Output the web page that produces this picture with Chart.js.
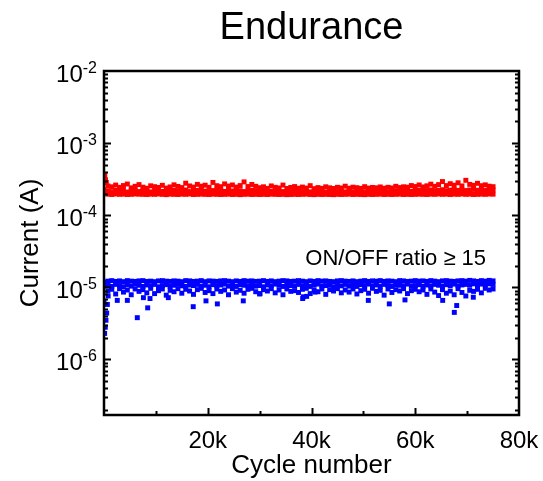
<!DOCTYPE html>
<html>
<head>
<meta charset="utf-8">
<script src="https://cdn.jsdelivr.net/npm/chart.js@4.4.1/dist/chart.umd.min.js"></script>
<style>
  html, body { margin: 0; padding: 0; background: #fff; }
  #wrap { width: 543px; height: 481px; }
</style>
</head>
<body>
<div id="wrap"><canvas id="chart"></canvas></div>
<script>
// cycle numbers of the sampled read-outs
const cycles = [
  0,750,1500,2250,3000,3750,4500,5250,6000,6750,
  7500,8250,9000,9750,10500,11250,12000,12750,13500,14250,
  15000,15750,16500,17250,18000,18750,19500,20250,21000,21750,
  22500,23250,24000,24750,25500,26250,27000,27750,28500,29250,
  30000,30750,31500,32250,33000,33750,34500,35250,36000,36750,
  37500,38250,39000,39750,40500,41250,42000,42750,43500,44250,
  45000,45750,46500,47250,48000,48750,49500,50250,51000,51750,
  52500,53250,54000,54750,55500,56250,57000,57750,58500,59250,
  60000,60750,61500,62250,63000,63750,64500,65250,66000,66750,
  67500,68250,69000,69750,70500,71250,72000,72750,73500,74250,
  75000
];

// ON state current (A), lower / middle / upper part of the red band
const onLow = [
  2.05e-4,1.96e-4,1.94e-4,1.97e-4,1.95e-4,1.96e-4,1.94e-4,1.95e-4,1.97e-4,1.96e-4,
  1.95e-4,1.94e-4,1.96e-4,1.95e-4,1.97e-4,1.95e-4,1.93e-4,1.96e-4,1.95e-4,1.94e-4,
  1.96e-4,1.95e-4,1.97e-4,1.94e-4,1.95e-4,1.96e-4,1.95e-4,1.94e-4,1.96e-4,1.95e-4,
  1.94e-4,1.95e-4,1.96e-4,1.94e-4,1.95e-4,1.93e-4,1.95e-4,1.96e-4,1.94e-4,1.95e-4,
  1.94e-4,1.95e-4,1.94e-4,1.96e-4,1.95e-4,1.94e-4,1.95e-4,1.93e-4,1.94e-4,1.95e-4,
  1.94e-4,1.95e-4,1.96e-4,1.94e-4,1.93e-4,1.95e-4,1.94e-4,1.95e-4,1.94e-4,1.93e-4,
  1.95e-4,1.94e-4,1.95e-4,1.96e-4,1.94e-4,1.95e-4,1.94e-4,1.93e-4,1.95e-4,1.94e-4,
  1.95e-4,1.96e-4,1.94e-4,1.95e-4,1.94e-4,1.95e-4,1.96e-4,1.94e-4,1.95e-4,1.94e-4,
  1.95e-4,1.96e-4,1.95e-4,1.94e-4,1.96e-4,1.95e-4,1.97e-4,1.95e-4,1.96e-4,1.94e-4,
  1.96e-4,1.95e-4,1.97e-4,1.95e-4,1.96e-4,1.94e-4,1.95e-4,1.96e-4,1.95e-4,1.97e-4,
  1.96e-4
];
const onMid = [
  2.25e-4,2.18e-4,2.12e-4,2.21e-4,2.15e-4,2.24e-4,2.10e-4,2.19e-4,2.22e-4,2.13e-4,
  2.17e-4,2.23e-4,2.11e-4,2.16e-4,2.20e-4,2.14e-4,2.09e-4,2.18e-4,2.22e-4,2.15e-4,
  2.19e-4,2.24e-4,2.13e-4,2.17e-4,2.21e-4,2.26e-4,2.16e-4,2.12e-4,2.20e-4,2.23e-4,
  2.18e-4,2.14e-4,2.21e-4,2.17e-4,2.25e-4,2.19e-4,2.13e-4,2.16e-4,2.22e-4,2.18e-4,
  2.12e-4,2.15e-4,2.10e-4,2.14e-4,2.17e-4,2.11e-4,2.13e-4,2.09e-4,2.12e-4,2.15e-4,
  2.10e-4,2.13e-4,2.16e-4,2.11e-4,2.08e-4,2.12e-4,2.14e-4,2.10e-4,2.13e-4,2.09e-4,
  2.12e-4,2.15e-4,2.11e-4,2.14e-4,2.10e-4,2.13e-4,2.16e-4,2.12e-4,2.09e-4,2.14e-4,
  2.11e-4,2.15e-4,2.12e-4,2.10e-4,2.14e-4,2.17e-4,2.13e-4,2.16e-4,2.19e-4,2.15e-4,
  2.18e-4,2.21e-4,2.16e-4,2.20e-4,2.24e-4,2.18e-4,2.22e-4,2.26e-4,2.19e-4,2.23e-4,
  2.27e-4,2.21e-4,2.25e-4,2.20e-4,2.24e-4,2.28e-4,2.22e-4,2.26e-4,2.21e-4,2.25e-4,
  2.23e-4
];
const onHigh = [
  3.40e-4,2.55e-4,2.48e-4,2.62e-4,2.44e-4,2.58e-4,2.71e-4,2.40e-4,2.52e-4,2.66e-4,
  2.45e-4,2.37e-4,2.56e-4,2.49e-4,2.43e-4,2.60e-4,2.38e-4,2.47e-4,2.64e-4,2.51e-4,
  2.42e-4,2.78e-4,2.55e-4,2.46e-4,2.68e-4,2.53e-4,2.61e-4,2.44e-4,2.85e-4,2.57e-4,
  2.49e-4,2.72e-4,2.54e-4,2.63e-4,2.46e-4,2.58e-4,2.90e-4,2.50e-4,2.67e-4,2.52e-4,
  2.41e-4,2.48e-4,2.36e-4,2.55e-4,2.44e-4,2.39e-4,2.62e-4,2.35e-4,2.43e-4,2.50e-4,
  2.37e-4,2.46e-4,2.38e-4,2.57e-4,2.34e-4,2.42e-4,2.36e-4,2.48e-4,2.40e-4,2.35e-4,
  2.44e-4,2.39e-4,2.53e-4,2.37e-4,2.45e-4,2.41e-4,2.36e-4,2.49e-4,2.38e-4,2.43e-4,
  2.40e-4,2.47e-4,2.37e-4,2.44e-4,2.39e-4,2.52e-4,2.42e-4,2.48e-4,2.45e-4,2.58e-4,
  2.50e-4,2.63e-4,2.47e-4,2.56e-4,2.70e-4,2.52e-4,2.66e-4,2.93e-4,2.58e-4,2.74e-4,
  2.61e-4,2.82e-4,2.55e-4,3.05e-4,2.68e-4,2.60e-4,2.77e-4,2.57e-4,2.64e-4,2.53e-4,
  2.49e-4
];
// a few stray ON reads at the very start
const onExtraCycles = [150, 300, 450];
const onExtra = [3.55e-4, 3.1e-4, 2.85e-4];

// OFF state current (A), upper / middle / lower part of the blue band
const offHigh = [
  1.18e-5,1.22e-5,1.24e-5,1.21e-5,1.23e-5,1.20e-5,1.24e-5,1.22e-5,1.21e-5,1.23e-5,
  1.24e-5,1.21e-5,1.22e-5,1.20e-5,1.23e-5,1.24e-5,1.22e-5,1.21e-5,1.23e-5,1.22e-5,
  1.20e-5,1.24e-5,1.23e-5,1.21e-5,1.22e-5,1.24e-5,1.20e-5,1.23e-5,1.22e-5,1.21e-5,
  1.23e-5,1.24e-5,1.22e-5,1.20e-5,1.23e-5,1.21e-5,1.24e-5,1.22e-5,1.23e-5,1.21e-5,
  1.22e-5,1.24e-5,1.21e-5,1.23e-5,1.20e-5,1.22e-5,1.24e-5,1.23e-5,1.21e-5,1.22e-5,
  1.24e-5,1.22e-5,1.20e-5,1.23e-5,1.21e-5,1.24e-5,1.22e-5,1.23e-5,1.21e-5,1.20e-5,
  1.23e-5,1.24e-5,1.22e-5,1.21e-5,1.23e-5,1.20e-5,1.22e-5,1.24e-5,1.21e-5,1.23e-5,
  1.22e-5,1.24e-5,1.21e-5,1.23e-5,1.22e-5,1.20e-5,1.24e-5,1.23e-5,1.21e-5,1.22e-5,
  1.24e-5,1.22e-5,1.23e-5,1.21e-5,1.24e-5,1.22e-5,1.20e-5,1.23e-5,1.24e-5,1.22e-5,
  1.21e-5,1.23e-5,1.24e-5,1.22e-5,1.25e-5,1.23e-5,1.21e-5,1.24e-5,1.22e-5,1.25e-5,
  1.23e-5
];
const offMid = [
  1.05e-5,1.08e-5,1.03e-5,1.10e-5,1.06e-5,1.02e-5,1.09e-5,1.04e-5,1.11e-5,1.07e-5,
  1.03e-5,1.08e-5,1.05e-5,1.10e-5,1.02e-5,1.06e-5,1.09e-5,1.04e-5,1.07e-5,1.11e-5,
  1.05e-5,1.03e-5,1.08e-5,1.06e-5,1.10e-5,1.04e-5,1.07e-5,1.02e-5,1.09e-5,1.05e-5,
  1.08e-5,1.11e-5,1.04e-5,1.06e-5,1.03e-5,1.09e-5,1.07e-5,1.05e-5,1.10e-5,1.04e-5,
  1.06e-5,1.02e-5,1.08e-5,1.05e-5,1.11e-5,1.07e-5,1.03e-5,1.09e-5,1.06e-5,1.04e-5,
  1.10e-5,1.05e-5,1.08e-5,1.03e-5,1.07e-5,1.11e-5,1.04e-5,1.06e-5,1.09e-5,1.02e-5,
  1.08e-5,1.05e-5,1.10e-5,1.04e-5,1.07e-5,1.03e-5,1.09e-5,1.06e-5,1.11e-5,1.05e-5,
  1.08e-5,1.04e-5,1.10e-5,1.06e-5,1.03e-5,1.09e-5,1.07e-5,1.05e-5,1.11e-5,1.04e-5,
  1.06e-5,1.09e-5,1.03e-5,1.08e-5,1.05e-5,1.10e-5,1.07e-5,1.04e-5,1.09e-5,1.06e-5,
  1.11e-5,1.05e-5,1.08e-5,1.10e-5,1.07e-5,1.12e-5,1.09e-5,1.11e-5,1.08e-5,1.12e-5,
  1.10e-5
];
const offLow = [
  6.2e-6,8.9e-6,9.4e-6,8.1e-6,9.6e-6,8.6e-6,9.2e-6,7.9e-6,9.5e-6,8.8e-6,
  9.3e-6,8.4e-6,9.7e-6,8.2e-6,9.0e-6,9.5e-6,7.8e-6,9.1e-6,8.7e-6,9.6e-6,
  8.3e-6,9.4e-6,8.9e-6,8.0e-6,9.3e-6,9.7e-6,8.5e-6,9.0e-6,8.2e-6,9.5e-6,
  8.8e-6,9.2e-6,7.9e-6,9.6e-6,8.6e-6,9.1e-6,8.3e-6,9.4e-6,9.7e-6,8.7e-6,
  8.1e-6,9.3e-6,8.9e-6,9.6e-6,8.4e-6,9.2e-6,7.9e-6,9.5e-6,8.8e-6,9.0e-6,
  8.5e-6,9.4e-6,9.7e-6,8.2e-6,9.1e-6,8.7e-6,9.5e-6,8.0e-6,9.3e-6,8.9e-6,
  9.6e-6,8.4e-6,9.2e-6,8.6e-6,9.5e-6,8.1e-6,9.0e-6,9.4e-6,8.3e-6,9.7e-6,
  8.8e-6,9.1e-6,7.8e-6,9.5e-6,8.5e-6,9.3e-6,8.9e-6,9.6e-6,8.2e-6,9.0e-6,
  9.4e-6,8.7e-6,9.2e-6,8.0e-6,9.5e-6,8.6e-6,7.7e-6,9.3e-6,8.3e-6,8.9e-6,
  7.9e-6,9.6e-6,8.5e-6,7.6e-6,9.1e-6,8.8e-6,9.4e-6,8.4e-6,9.7e-6,9.2e-6,
  9.5e-6
];
// scattered low OFF reads
const offExtraCycles = [
  120, 250, 380, 520, 650, 800, 2560, 4500, 6420, 7600, 8420, 8870, 12400, 17200,
  19660, 21850, 26850, 30070, 38300, 38420, 39070, 40670, 50950, 55000,
  58020, 65290, 67530, 67990, 71190
];
const offExtra = [
  2.3e-6, 2.8e-6, 3.5e-6, 4.4e-6, 5.8e-6, 7.6e-6, 6.6e-6, 6.6e-6, 3.8e-6, 7.2e-6, 5.2e-6, 7.0e-6, 7.2e-6, 5.4e-6,
  6.5e-6, 5.9e-6, 6.5e-6, 8.2e-6, 7.0e-6, 7.4e-6, 7.5e-6, 8.6e-6, 6.6e-6, 5.9e-6,
  6.7e-6, 6.6e-6, 4.5e-6, 5.6e-6, 7.3e-6
];

const xTicks = [20000, 40000, 60000, 80000];
const yDecades = [-2, -3, -4, -5, -6];

const FONT = "'Liberation Sans', Arial, sans-serif";
const RED = '#ff0000';
const BLUE = '#0000ff';

const pts = (xs, ys) => xs.map((x, i) => ({ x: x, y: ys[i] }));

const layer = (label, xs, ys, color) => ({
  label: label,
  data: pts(xs, ys),
  backgroundColor: color,
  borderWidth: 0,
  pointStyle: 'rect',
  pointRadius: 3.5,
  showLine: false
});

// frame, inward ticks, y labels with exponents, annotation
const framePlugin = {
  id: 'frame',
  afterDraw(chart) {
    const { ctx, chartArea: a, scales: { x, y } } = chart;
    ctx.save();
    ctx.strokeStyle = '#000';
    ctx.lineWidth = 2;
    ctx.beginPath();
    // y ticks on left and right
    for (let e = -7; e <= -3; e++) {
      for (let m = 1; m <= 9; m++) {
        const v = m * Math.pow(10, e);
        if (v < y.min || v > y.max) continue;
        const py = Math.round(y.getPixelForValue(v)) + 0.5;
        const len = m === 1 ? 7 : 4;
        ctx.moveTo(a.left, py); ctx.lineTo(a.left + len, py);
        ctx.moveTo(a.right, py); ctx.lineTo(a.right - len, py);
      }
    }
    // x ticks on bottom
    for (let v = 10000; v < 80000; v += 10000) {
      const px = Math.round(x.getPixelForValue(v)) + 0.5;
      const len = v % 20000 === 0 ? 7 : 4;
      ctx.moveTo(px, a.bottom); ctx.lineTo(px, a.bottom - len);
    }
    ctx.stroke();

    ctx.lineWidth = 2.5;
    ctx.strokeRect(a.left, a.top, a.right - a.left, a.bottom - a.top);

    // y tick labels 10^n
    ctx.fillStyle = '#000';
    ctx.textAlign = 'right';
    ctx.textBaseline = 'alphabetic';
    yDecades.forEach(e => {
      const py = y.getPixelForValue(Math.pow(10, e));
      const sup = String(e);
      const right = a.left - 7;
      ctx.font = '16px ' + FONT;
      const w = ctx.measureText(sup).width;
      ctx.fillText(sup, right, py + 2);
      ctx.font = '24px ' + FONT;
      ctx.fillText('10', right - w, py + 11);
    });

    // annotation
    ctx.font = '22px ' + FONT;
    ctx.textAlign = 'left';
    ctx.textBaseline = 'middle';
    ctx.fillText('ON/OFF ratio \u2265 15', x.getPixelForValue(38800), y.getPixelForValue(2.45e-5));
    ctx.restore();
  }
};

new Chart(document.getElementById('chart'), {
  type: 'scatter',
  data: {
    datasets: [
      layer('ON', cycles, onLow, RED),
      layer('ON', cycles, onMid, RED),
      layer('ON', cycles, onHigh, RED),
      layer('ON', onExtraCycles, onExtra, RED),
      layer('OFF', cycles, offHigh, BLUE),
      layer('OFF', cycles, offMid, BLUE),
      layer('OFF', cycles, offLow, BLUE),
      layer('OFF', offExtraCycles, offExtra, BLUE)
    ]
  },
  options: {
    responsive: true,
    maintainAspectRatio: false,
    animation: false,
    layout: { padding: { left: 0, right: 24, top: 0, bottom: 0 } },
    plugins: {
      legend: { display: false },
      tooltip: { enabled: false },
      title: {
        display: true,
        text: 'Endurance',
        fullSize: false,
        color: '#000',
        font: { family: FONT, size: 38, weight: 'normal' },
        padding: { top: 6, bottom: 19.4 }
      }
    },
    scales: {
      x: {
        type: 'linear',
        min: 0,
        max: 80000,
        afterFit: s => { s.height = 66; },
        afterBuildTicks: s => { s.ticks = xTicks.map(v => ({ value: v })); },
        grid: { display: false },
        border: { display: false },
        ticks: {
          color: '#000',
          padding: 4,
          maxRotation: 0,
          font: { family: FONT, size: 24 },
          callback: v => (v / 1000) + 'k'
        },
        title: {
          display: true,
          text: 'Cycle number',
          color: '#000',
          font: { family: FONT, size: 26 },
          padding: { top: 0, bottom: 0 }
        }
      },
      y: {
        type: 'logarithmic',
        min: 1.7e-7,
        max: 1e-2,
        afterFit: s => { s.width = 104; },
        grid: { display: false },
        border: { display: false },
        ticks: { display: false },
        title: {
          display: true,
          text: 'Current (A)',
          color: '#000',
          font: { family: FONT, size: 26 },
          padding: { top: 15, bottom: 0 }
        }
      }
    }
  },
  plugins: [framePlugin]
});
</script>
</body>
</html>
